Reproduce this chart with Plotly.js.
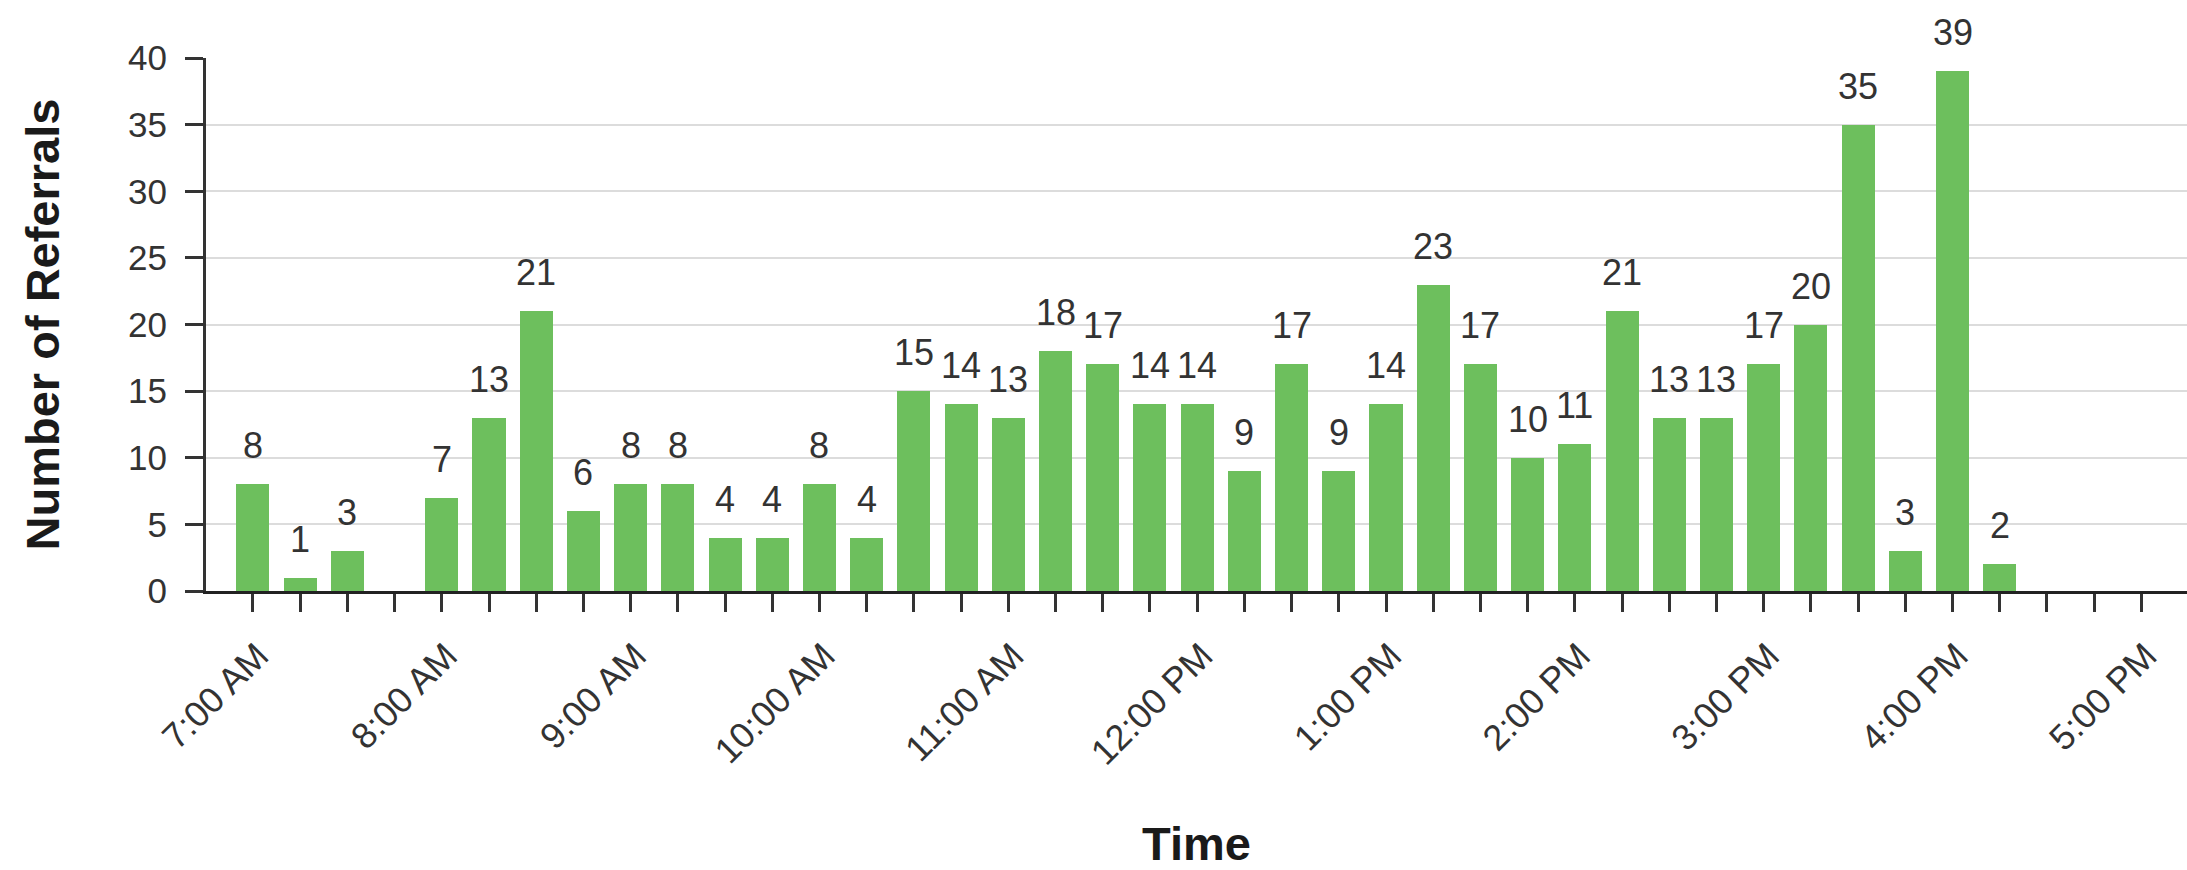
<!DOCTYPE html>
<html>
<head>
<meta charset="utf-8">
<script src="https://cdn.plot.ly/plotly-3.0.1.min.js"></script>
<style>
  html, body { margin: 0; padding: 0; background: #ffffff; }
  #chart { width: 2187px; height: 870px; }
</style>
</head>
<body>
<div id="chart"></div>
<script>
// Data
var day = '2024-01-01 ';
var times = ['07:00','07:15','07:30',
             '08:00','08:15','08:30','08:45',
             '09:00','09:15','09:30','09:45',
             '10:00','10:15','10:30','10:45',
             '11:00','11:15','11:30','11:45',
             '12:00','12:15','12:30','12:45',
             '13:00','13:15','13:30','13:45',
             '14:00','14:15','14:30','14:45',
             '15:00','15:15','15:30','15:45',
             '16:00','16:15'];
var referrals = [8,1,3,
                 7,13,21,6,
                 8,8,4,4,
                 8,4,15,14,
                 13,18,17,14,
                 14,9,17,9,
                 14,23,17,10,
                 11,21,13,13,
                 17,20,35,3,
                 39,2];
var hourTicks = ['07:00','08:00','09:00','10:00','11:00','12:00','13:00','14:00','15:00','16:00','17:00'];
var hourLabels = ['7:00 AM','8:00 AM','9:00 AM','10:00 AM','11:00 AM','12:00 PM','1:00 PM','2:00 PM','3:00 PM','4:00 PM','5:00 PM'];
var yTicks = [0,5,10,15,20,25,30,35,40];

var FONT = 'Liberation Sans, Arial, Helvetica, sans-serif';
var xs = times.map(function (t) { return day + t; });

var trace = {
  type: 'bar',
  x: xs,
  y: referrals,
  width: 630000,
  marker: { color: '#6dbf5d', line: { width: 0 } },
  hoverinfo: 'x+y'
};

var annotations = xs.map(function (x, i) {
  return {
    x: x, y: referrals[i], xref: 'x', yref: 'y',
    text: String(referrals[i]),
    showarrow: false, yanchor: 'bottom', xanchor: 'center',
    yshift: 16,
    font: { family: FONT, size: 36, color: '#333333' }
  };
});

var layout = {
  width: 2187, height: 870,
  margin: { l: 206, r: 0, t: 58, b: 279, pad: 0 },
  paper_bgcolor: '#ffffff', plot_bgcolor: '#ffffff',
  showlegend: false,
  bargap: 0,
  font: { family: FONT, color: '#333333', size: 36 },
  xaxis: {
    type: 'date',
    range: [day + '06:45:05', day + '17:14:30'],
    tickmode: 'array',
    tickvals: hourTicks.map(function (t) { return day + t; }),
    ticktext: hourLabels,
    tickangle: -45,
    ticks: 'outside', ticklen: 18, tickwidth: 3, tickcolor: '#333333',
    ticklabelstandoff: 8,
    ticklabelshift: 5,
    tickfont: { family: FONT, size: 36, color: '#333333' },
    minor: { dtick: 900000, tick0: day + '07:00', ticks: 'outside', ticklen: 18, tickwidth: 3, tickcolor: '#333333', showgrid: false },
    showline: true, linecolor: '#222222', linewidth: 3,
    showgrid: false, zeroline: false,
    automargin: false,
    title: { text: '<b>Time</b>', font: { family: FONT, size: 47, color: '#1a1a1a' }, standoff: 110 }
  },
  yaxis: {
    range: [0, 40],
    tickmode: 'array', tickvals: yTicks,
    ticks: 'outside', ticklen: 18, tickwidth: 3, tickcolor: '#333333',
    ticklabelstandoff: 11,
    tickfont: { family: FONT, size: 35, color: '#333333' },
    showline: true, linecolor: '#333333', linewidth: 3,
    showgrid: true, gridcolor: '#dcdcdc', gridwidth: 2,
    zeroline: false,
    automargin: false,
    title: { text: '<b>Number of Referrals</b>', font: { family: FONT, size: 47, color: '#1a1a1a' }, standoff: 54 }
  },
  annotations: annotations
};

Plotly.newPlot('chart', [trace], layout, { displayModeBar: false, staticPlot: true });
</script>
</body>
</html>
